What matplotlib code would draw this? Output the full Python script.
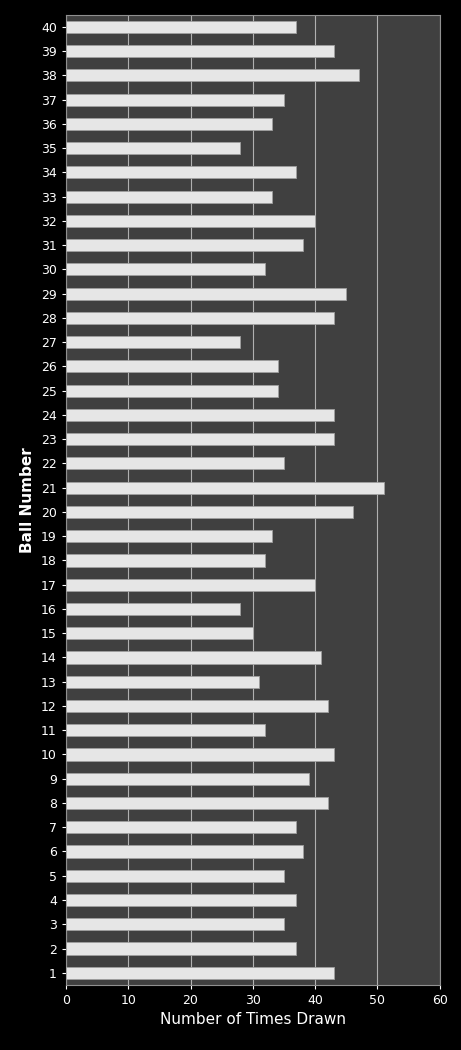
import matplotlib
matplotlib.use("Agg")
import matplotlib.pyplot as plt

balls = list(range(1, 41))
counts = [43, 37, 35, 37, 35, 38, 37, 42, 39, 43,
          32, 42, 31, 41, 30, 28, 40, 32, 33, 46,
          51, 35, 43, 43, 34, 34, 28, 43, 45, 32,
          38, 40, 33, 37, 28, 33, 35, 47, 43, 37]

fig = plt.figure(figsize=(4.61, 10.5), dpi=100, facecolor="black")
ax = fig.add_axes([0.143, 0.062, 0.811, 0.924])
ax.set_facecolor("#404040")
ax.barh(balls, counts, height=0.5, color="#e6e6e6", edgecolor="#a0a0a0", linewidth=0.6, zorder=3)
ax.set_xlim(0, 60)
ax.set_ylim(0.5, 40.5)
ax.set_xticks(range(0, 61, 10))
ax.set_yticks(balls)
ax.xaxis.grid(True, color="#b0b0b0", linewidth=0.8, zorder=1)
ax.tick_params(colors="white", labelsize=9, length=3)
for s in ax.spines.values():
    s.set_color("#909090")
ax.set_xlabel("Number of Times Drawn", color="white", fontsize=11)
ax.set_ylabel("Ball Number", color="white", fontsize=11, fontweight="bold")
fig.savefig("out.png", dpi=100, facecolor="black")
